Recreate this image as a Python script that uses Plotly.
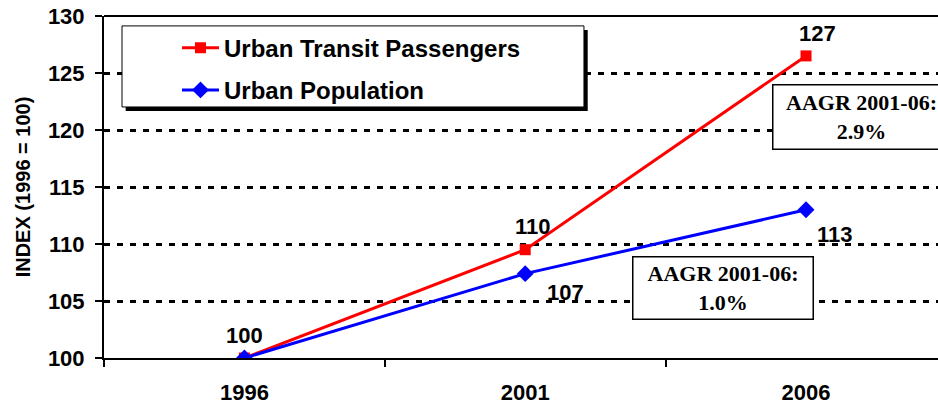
import plotly.graph_objects as go

# data
years = ["1996", "2001", "2006"]
transit = [100.0, 109.5, 126.5]
population = [100.0, 107.4, 113.0]
transit_labels = ["100", "110", "127"]
population_labels = ["", "107", "113"]
aagr_transit = "AAGR 2001-06:<br>2.9%"
aagr_population = "AAGR 2001-06:<br>1.0%"

SANS = "Liberation Sans, Arial, sans-serif"
SERIF = "Liberation Serif, Times New Roman, serif"

fig = go.Figure()
fig.add_trace(go.Scatter(
    x=years, y=transit, mode="lines+markers", name="Urban Transit Passengers",
    line=dict(color="#ff0000", width=3),
    marker=dict(symbol="square", size=11, color="#ff0000"),
    legendgroup="a",
))
fig.add_trace(go.Scatter(
    x=years, y=population, mode="lines+markers", name="Urban Population",
    line=dict(color="#0000ff", width=3),
    marker=dict(symbol="diamond", size=13, color="#0000ff"),
    legendgroup="b",
))

# point labels (x given as category index)
label_font = dict(family=SANS, size=22, color="black", weight="bold")
transit_shift = [(0, 23), (8, 23), (11, 22)]
for i, (val, txt) in enumerate(zip(transit, transit_labels)):
    if txt:
        dx, dy = transit_shift[i]
        fig.add_annotation(x=i, y=val, text=txt, showarrow=False,
                           xshift=dx, yshift=dy, font=label_font)
pop_shift = [(0, 0), (40, -19), (29, -25)]
for i, (val, txt) in enumerate(zip(population, population_labels)):
    if txt:
        dx, dy = pop_shift[i]
        fig.add_annotation(x=i, y=val, text=txt, showarrow=False,
                           xshift=dx, yshift=dy, font=label_font)

# growth-rate boxes
box_font = dict(family=SERIF, size=22, color="black", weight="bold")
fig.add_annotation(x=2.196, y=121.15, xref="x", yref="y", text=aagr_transit,
                   showarrow=False, font=box_font, bgcolor="white",
                   bordercolor="black", borderwidth=1.5, borderpad=3,
                   width=170, height=57)
fig.add_annotation(x=1.704, y=106.15, xref="x", yref="y", text=aagr_population,
                   showarrow=False, font=box_font, bgcolor="white",
                   bordercolor="black", borderwidth=1.5, borderpad=3,
                   width=173, height=55)

# legend box with drop shadow
fig.add_shape(type="rect", xref="paper", yref="paper",
              x0=0.026, x1=0.580, y0=0.722, y1=0.959,
              fillcolor="black", line=dict(width=0), layer="above")
fig.add_shape(type="rect", xref="paper", yref="paper",
              x0=0.0216, x1=0.5755, y0=0.734, y1=0.971,
              fillcolor="white", line=dict(color="black", width=1), layer="above")
# solid top frame line
fig.add_shape(type="line", xref="paper", yref="paper", x0=0, x1=1, y0=1, y1=1,
              line=dict(color="black", width=2))

fig.update_xaxes(
    type="category", range=[-0.5, 2.47], tickson="boundaries",
    ticks="outside", ticklen=7, tickcolor="black", tickwidth=1.5,
    ticklabelstandoff=14,
    showline=True, linecolor="black", linewidth=2, showgrid=False,
    tickfont=dict(family=SANS, size=22, color="black", weight="bold"),
)
fig.update_yaxes(
    range=[100, 130], dtick=5, ticks="outside", ticklen=7,
    tickcolor="black", tickwidth=1.5, ticklabelstandoff=6,
    showline=True, linecolor="black", linewidth=2,
    showgrid=True, gridcolor="black", gridwidth=2.5, griddash="6px,7px",
    zeroline=False,
    tickfont=dict(family=SANS, size=22, color="black", weight="bold"),
    title=dict(text="INDEX (1996 = 100)", standoff=12,
               font=dict(family=SANS, size=20, color="black", weight="bold")),
)

fig.update_layout(
    width=938, height=407,
    margin=dict(l=104, r=0, t=16, b=49),
    plot_bgcolor="white", paper_bgcolor="white",
    showlegend=True,
    legend=dict(x=0.0875, y=0.972, xanchor="left", yanchor="top",
                bgcolor="rgba(0,0,0,0)", borderwidth=0,
                itemwidth=37, tracegroupgap=8,
                font=dict(family=SANS, size=24, color="black", weight="bold")),
)

# drop the default 8px page margin so the figure sits at the window corner
fig.write_html("out.html", config={"displayModeBar": False},
               post_script="document.body.style.margin = '0';")
